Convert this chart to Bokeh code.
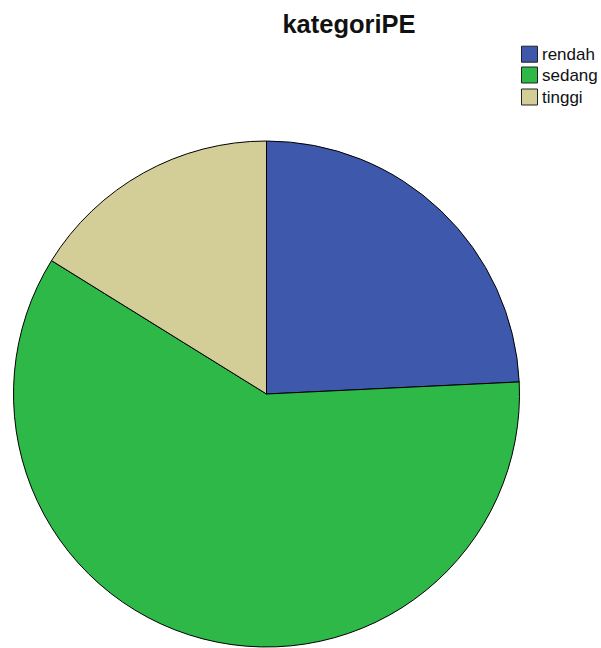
import math
from bokeh.plotting import figure
from bokeh.models import Range1d, ColumnDataSource
from bokeh.core.properties import value
from bokeh.embed import file_html
from bokeh.resources import INLINE

categories = ["rendah", "sedang", "tinggi"]
counts = [24, 59, 16]
colors = ["#3E58AC", "#2EB848", "#D3CE97"]
title_text = "kategoriPE"

W, H = 601, 648
p = figure(width=W, height=H, output_backend="svg", toolbar_location=None,
           x_range=Range1d(0, W), y_range=Range1d(0, H), min_border=0,
           match_aspect=False)
p.axis.visible = False
p.grid.visible = False
p.outline_line_color = None
p.background_fill_color = "white"
p.border_fill_color = "white"

# pie: clockwise from 12 o'clock
cx, cy, r = 266, H - 393.5, 253
total = sum(counts)
starts, ends = [], []
cum = 0.0
for c in counts:
    a0 = math.pi / 2 - 2 * math.pi * cum / total
    cum += c
    a1 = math.pi / 2 - 2 * math.pi * cum / total
    starts.append(a0)
    ends.append(a1)
src = ColumnDataSource(dict(start=starts, end=ends, color=colors, cat=categories))
p.wedge(x=cx, y=cy, radius=r, start_angle="start", end_angle="end",
        direction="clock", fill_color="color", line_color="black",
        line_width=1, source=src)

# title
p.text(x=[348.5], y=[H - 23.5], text=[title_text], text_font=value("Liberation Sans"),
       text_font_style="bold", text_font_size="25.5px", text_align="center",
       text_baseline="middle", text_color="#111111")

# legend
box_y = [H - 53.7, H - 74.5, H - 96.5]
p.rect(x=[529] * 3, y=box_y, width=16, height=16, fill_color=colors,
       line_color="#222222", line_width=1)
p.text(x=[541.5] * 3, y=box_y, text=categories, text_font=value("Liberation Sans"),
       text_font_size="17px", text_align="left", text_baseline="middle",
       text_color="#111111")

open("out.html", "w").write(file_html(p, INLINE))
